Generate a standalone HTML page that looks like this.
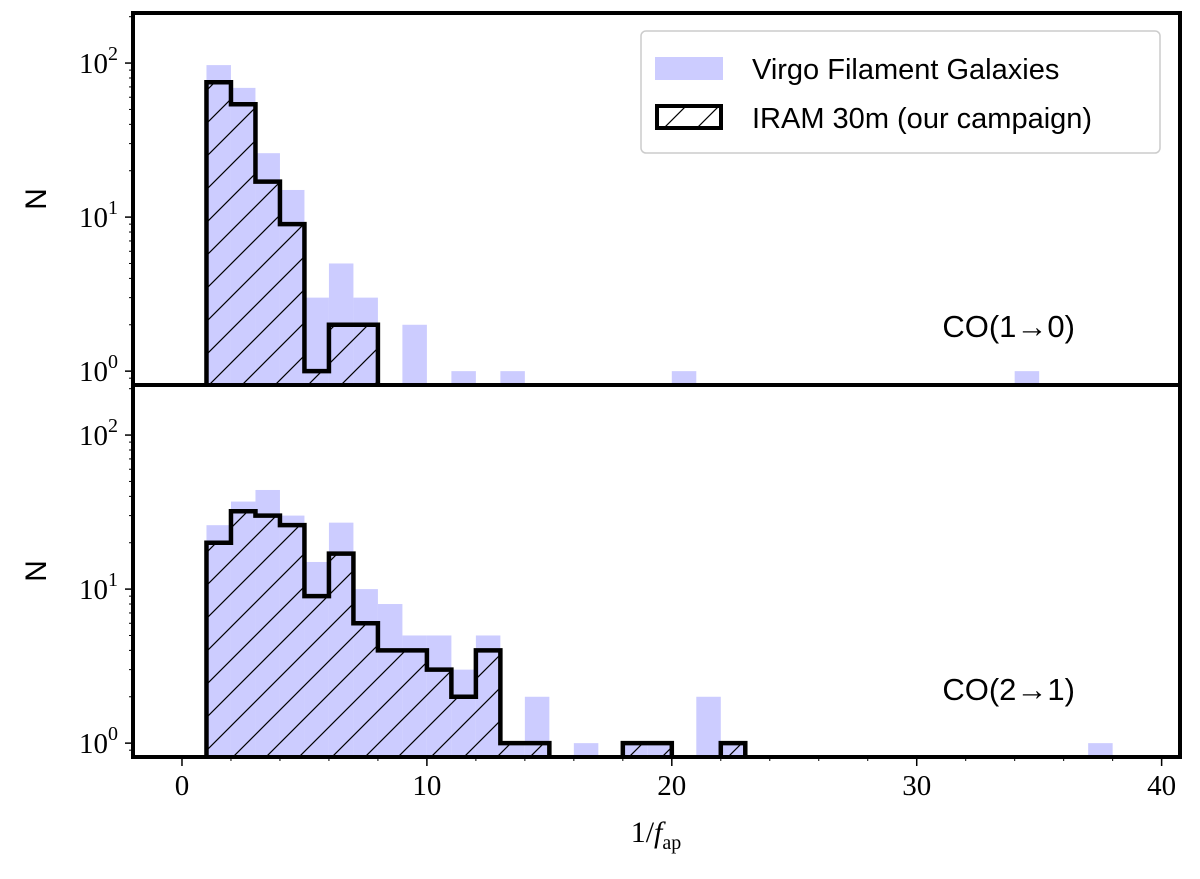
<!DOCTYPE html>
<html><head><meta charset="utf-8"><style>
body{margin:0;background:#fff;}
svg text{font-family:"Liberation Serif",serif;}
.sans{font-family:"Liberation Sans",sans-serif;}
</style></head><body>
<svg id="chart" width="1200" height="874" viewBox="0 0 1200 874" xmlns="http://www.w3.org/2000/svg">
<defs>
<pattern id="hatch" patternUnits="userSpaceOnUse" width="33" height="33">
<path d="M0,33 L33,0 M-5,5 L5,-5 M28,38 L38,28" stroke="#000" stroke-width="1.2"/>
</pattern>
<clipPath id="clipTop"><rect x="133" y="13" width="1047" height="372"/></clipPath>
<clipPath id="clipBot"><rect x="133" y="385" width="1047" height="372"/></clipPath>
</defs>
<g id="plot"></g>
</svg>
<script>
const binStartsTopVirgo = [1,2,3,4,5,6,7,9,11,13,20,34];
const countsTopVirgo = [97,69,26,15,3,5,3,2,1,1,1,1];
const binStartsTopIram = [1,2,3,4,5,6,7];
const countsTopIram = [75,54,17,9,1,2,2];
const binStartsBotVirgo = [1,2,3,4,5,6,7,8,9,10,11,12,13,14,16,18,19,21,22,37];
const countsBotVirgo = [26,37,44,30,15,27,10,8,5,5,3,5,1,2,1,1,1,2,1,1];
const binStartsBotIram = [1,2,3,4,5,6,7,8,9,10,11,12,13,14,18,19,22];
const countsBotIram = [20,32,30,26,9,17,6,4,4,3,2,4,1,1,1,1,1];
const xTicks = [0,10,20,30,40];
const yTickExps = [0,1,2];

const NS = "http://www.w3.org/2000/svg";
const g = document.getElementById('plot');
const X0 = 133, X1 = 1180, XMIN = -2, XMAX = 40.75;
function xs(v){ return X0 + (v - XMIN) / (XMAX - XMIN) * (X1 - X0); }
const panels = [
  {top:13, bot:385, clip:'clipTop', vs:binStartsTopVirgo, vc:countsTopVirgo, is:binStartsTopIram, ic:countsTopIram, label:'CO(1\u21920)', ly:337, name:'co10'},
  {top:385, bot:757, clip:'clipBot', vs:binStartsBotVirgo, vc:countsBotVirgo, is:binStartsBotIram, ic:countsBotIram, label:'CO(2\u21921)', ly:700, name:'co21'}
];
const LMIN = -0.09, LMAX = 2.325;
function mk(tag, attrs, parent){
  const e = document.createElementNS(NS, tag);
  for (const k in attrs) e.setAttribute(k, attrs[k]);
  (parent || g).appendChild(e);
  return e;
}
panels.forEach(p => {
  const ys = v => p.bot - (Math.log10(v) - LMIN) / (LMAX - LMIN) * (p.bot - p.top);
  const grp = mk('g', {'clip-path':'url(#' + p.clip + ')'});
  
  
  p.vs.forEach((s, i) => {
    const r = mk('rect', {x:xs(s), y:ys(p.vc[i]), width:xs(s+1)-xs(s), height:p.bot+5-ys(p.vc[i]), fill:'#ccccff'}, grp);
    
    
  });
  let d = '';
  let prevEnd = null;
  p.is.forEach((s, i) => {
    const y = ys(p.ic[i]);
    if (prevEnd !== s) {
      if (prevEnd !== null) d += ' L' + xs(prevEnd) + ',' + (p.bot+3);
      d += ' M' + xs(s) + ',' + (p.bot+3);
    }
    d += ' L' + xs(s) + ',' + y + ' L' + xs(s+1) + ',' + y;
    prevEnd = s + 1;
  });
  d += ' L' + xs(prevEnd) + ',' + (p.bot+3);
  const hf = mk('path', {d:d + ' Z', fill:'url(#hatch)', stroke:'none'}, grp);
  
  
  const ol = mk('path', {d:d, fill:'none', stroke:'#000', 'stroke-width':4.5, 'stroke-linejoin':'miter'}, grp);
  
  
  for (let e = -1; e <= 2; e++) {
    for (let m = 1; m < 10; m++) {
      const v = m * Math.pow(10, e);
      const y = ys(v);
      if (y < p.top || y > p.bot) continue;
      mk('line', {x1:X0, x2:X0 - (m===1?8:4), y1:y, y2:y, stroke:'#000', 'stroke-width':m===1?1.5:1});
    }
  }
  yTickExps.forEach(e => {
    const y = ys(Math.pow(10, e));
    const t = mk('text', {x:79, y:y+10, 'font-size':29});
    
    
    t.textContent = '10';
    const sp = mk('tspan', {dy:-13, 'font-size':20}, t);
    sp.textContent = e;
  });
  const yl = mk('text', {x:0, y:0, 'font-size':30, 'text-anchor':'middle', class:'sans', transform:'translate(46,' + ((p.top+p.bot)/2) + ') rotate(-90)'});
  
  
  yl.textContent = 'N';
  const lab = mk('text', {x:1075, y:p.ly, 'font-size':31, 'text-anchor':'end', class:'sans'});
  
  
  lab.textContent = p.label;
  const fr = mk('rect', {x:X0, y:p.top, width:X1-X0, height:p.bot-p.top, fill:'none', stroke:'#000', 'stroke-width':4});
  
  
});
xTicks.forEach(v => {
  mk('line', {x1:xs(v), x2:xs(v), y1:757, y2:766, stroke:'#000', 'stroke-width':1.5});
  const t = mk('text', {x:xs(v), y:795, 'font-size':29, 'text-anchor':'middle'});
  
  
  t.textContent = v;
});
for (let v = 0; v <= 40; v += 2) mk('line', {x1:xs(v), x2:xs(v), y1:757, y2:761, stroke:'#000', 'stroke-width':1});
const xl = mk('text', {x:656, y:842, 'font-size':30, 'text-anchor':'middle'});


xl.innerHTML = '1/<tspan font-style="italic">f</tspan><tspan font-size="20" dy="7">ap</tspan>';
const lg = mk('g', {});


mk('rect', {x:641, y:31, width:519, height:122, rx:5, fill:'#fff', stroke:'#ccc', 'stroke-width':1.5}, lg);
mk('rect', {x:655, y:57, width:68, height:23, fill:'#ccccff'}, lg);
mk('rect', {x:657, y:106, width:64, height:22, fill:'url(#hatch)', stroke:'#000', 'stroke-width':4}, lg);
const t1 = mk('text', {x:752, y:79, 'font-size':29, class:'sans'}, lg);


t1.textContent = 'Virgo Filament Galaxies';
const t2 = mk('text', {x:752, y:128, 'font-size':29, class:'sans'}, lg);


t2.textContent = 'IRAM 30m (our campaign)';
</script>
</body></html>
